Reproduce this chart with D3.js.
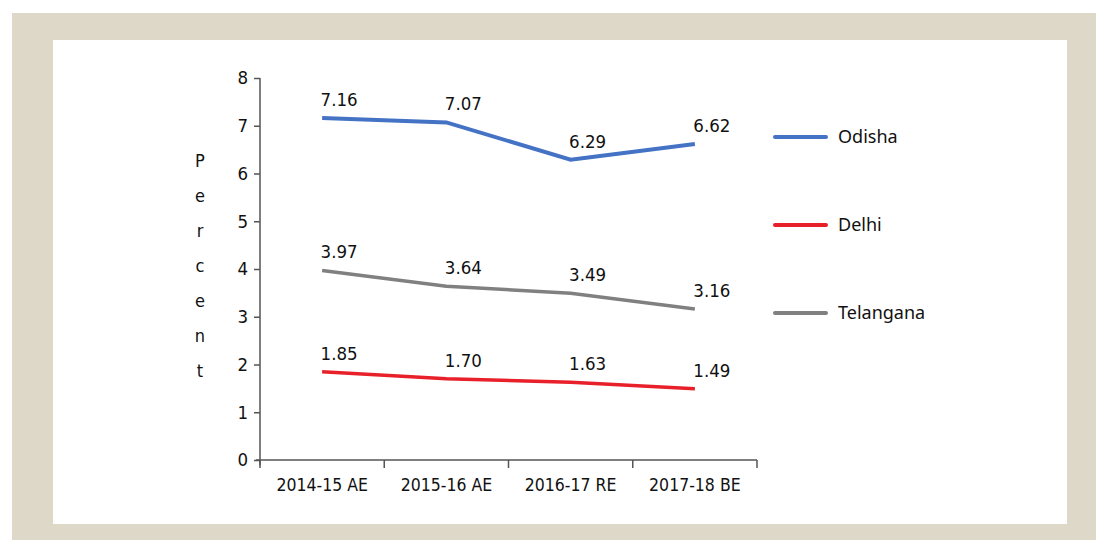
<!DOCTYPE html>
<html>
<head>
<meta charset="utf-8">
<script src="https://cdn.jsdelivr.net/npm/d3@7"></script>
<style>
  body { margin: 0; background: #fff; }
  svg { display: block; }
</style>
</head>
<body>
<script>
const categories = ["2014-15 AE", "2015-16 AE", "2016-17 RE", "2017-18 BE"];
const seriesNames = ["Odisha", "Delhi", "Telangana"];
const odisha = [7.16, 7.07, 6.29, 6.62];
const delhi = [1.85, 1.70, 1.63, 1.49];
const telangana = [3.97, 3.64, 3.49, 3.16];
const yTicks = [0, 1, 2, 3, 4, 5, 6, 7, 8];
const colors = ["#4472c4", "#e8202a", "#808080"];

const series = [odisha, delhi, telangana];

const width = 1096;
const height = 540;
const margin = { top: 78, right: 339, bottom: 80, left: 260 };

const svg = d3
  .select("body")
  .append("svg")
  .attr("width", width)
  .attr("height", height);

// frame
svg.append("rect").attr("x", 12).attr("y", 13).attr("width", width - 12).attr("height", height - 13).attr("fill", "#ded8c8");
svg.append("rect").attr("x", 53).attr("y", 40).attr("width", 1014).attr("height", 484).attr("fill", "#fff");

const xScale = d3
  .scaleBand()
  .domain(categories)
  .range([margin.left, width - margin.right]);

const yScale = d3
  .scaleLinear()
  .domain([0, 8])
  .range([height - margin.bottom, margin.top]);

const font = "'DejaVu Sans Condensed', 'DejaVu Sans', sans-serif";

const xAxis = svg
  .append("g")
  .attr("transform", `translate(0, ${height - margin.bottom})`)
  .call(d3.axisBottom(xScale).tickSize(0).tickPadding(19));
xAxis.select(".domain").attr("stroke", "#555").attr("stroke-width", 1.5)
  .attr("d", `M${margin.left - 4},0H${width - margin.right}`);
xAxis.selectAll("text").style("font-family", font).style("font-size", "17.5px").attr("fill", "#111");
// tick marks between categories
xAxis
  .selectAll("line.sep")
  .data(categories.map((c) => xScale(c)).concat([xScale(categories[categories.length - 1]) + xScale.bandwidth()]))
  .enter()
  .append("line")
  .attr("class", "sep")
  .attr("x1", (d) => d)
  .attr("x2", (d) => d)
  .attr("y1", 0)
  .attr("y2", 8)
  .attr("stroke", "#555")
  .attr("stroke-width", 1.5);

const yAxis = svg
  .append("g")
  .attr("transform", `translate(${margin.left}, 0)`)
  .call(d3.axisLeft(yScale).tickValues(yTicks).tickSize(6).tickPadding(6).tickSizeOuter(0));
yAxis.select(".domain").attr("stroke", "#555").attr("stroke-width", 1.5)
  .attr("d", `M0,${margin.top}V${height - margin.bottom + 5}`);
yAxis.selectAll(".tick line").attr("stroke", "#555").attr("stroke-width", 1.5);
yAxis.selectAll("text").style("font-family", font).style("font-size", "18.5px").attr("fill", "#111");

// y title, stacked letters
svg
  .append("g")
  .selectAll("text")
  .data("Percent".split(""))
  .enter()
  .append("text")
  .attr("x", 200)
  .attr("y", (d, i) => 167 + i * 35)
  .attr("text-anchor", "middle")
  .style("font-family", font)
  .style("font-size", "18px")
  .attr("fill", "#111")
  .text((d) => d);

const line = d3
  .line()
  .x((d, i) => xScale(categories[i]) + xScale.bandwidth() / 2)
  .y((d) => yScale(d));

series.forEach((vals, s) => {
  svg
    .append("path")
    .datum(vals)
    .attr("fill", "none")
    .attr("stroke", colors[s])
    .attr("stroke-width", s === 0 ? 4 : 3.5)
    .attr("d", line);

  svg
    .append("g")
    .selectAll("text")
    .data(vals)
    .enter()
    .append("text")
    .attr("x", (d, i) => xScale(categories[i]) + xScale.bandwidth() / 2 + 17)
    .attr("y", (d) => yScale(d) - 12)
    .attr("text-anchor", "middle")
    .style("font-family", font)
    .style("font-size", "18.5px")
    .attr("fill", "#111")
    .text((d) => d.toFixed(2));
});

// legend
const legend = svg
  .append("g")
  .selectAll("g")
  .data(seriesNames)
  .enter()
  .append("g")
  .attr("transform", (d, i) => `translate(775, ${137 + i * 88})`);
legend
  .append("line")
  .attr("x1", 0)
  .attr("x2", 51)
  .attr("stroke", (d, i) => colors[i])
  .attr("stroke-width", 4)
  .attr("stroke-linecap", "round");
legend
  .append("text")
  .attr("x", 63)
  .attr("dy", "0.35em")
  .style("font-family", "'Noto Sans', sans-serif")
  .style("font-size", "18px")
  .attr("fill", "#111")
  .text((d) => d);
</script>
</body>
</html>
